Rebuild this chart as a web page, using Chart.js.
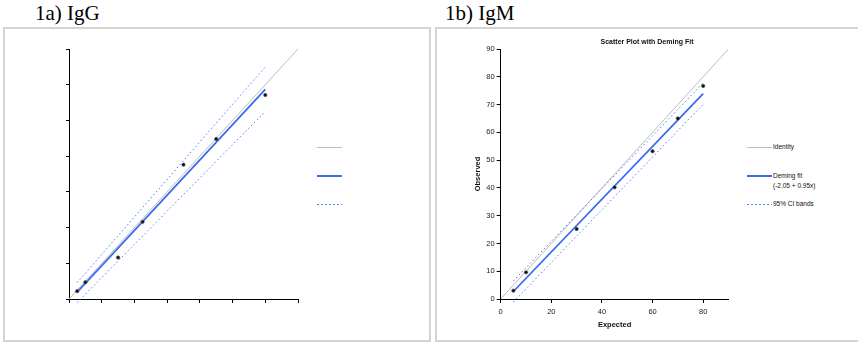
<!DOCTYPE html>
<html><head><meta charset="utf-8">
<script src="https://cdn.jsdelivr.net/npm/chart.js@4.4.1/dist/chart.umd.min.js"></script>
<style>
html,body{margin:0;padding:0;background:#fff;}
body{width:858px;height:342px;position:relative;overflow:hidden;font-family:"Liberation Sans",Arial,sans-serif;}
.ptitle{position:absolute;top:3px;font-family:"Liberation Serif","Times New Roman",serif;font-size:21px;line-height:21px;color:#000;white-space:nowrap;}
.panel{position:absolute;top:27px;height:315px;border:2px solid #d4d4d4;box-sizing:border-box;}
.cwrap{position:absolute;}
.legline{position:absolute;width:25px;}
.legtext{position:absolute;font-size:6.5px;line-height:10.5px;color:#111;white-space:nowrap;}
.ctitle{position:absolute;font-weight:bold;font-size:7px;line-height:9px;color:#111;white-space:nowrap;transform:translateX(-50%);}
</style>
</head>
<body>
<div class="ptitle" style="left:35px">1a) IgG</div>
<div class="ptitle" style="left:445px">1b) IgM</div>
<div class="panel" style="left:3px;width:428px"></div>
<div class="panel" style="left:435px;width:430px"></div>
<div class="cwrap" style="left:6px;top:30px;width:320px;height:308px"><canvas id="c1" width="320" height="308"></canvas></div>
<div class="cwrap" style="left:437px;top:30px;width:300px;height:308px"><canvas id="c2" width="300" height="308"></canvas></div>
<div class="ctitle" id="t2" style="left:647px;top:37px"></div>
<div id="leg1"></div>
<div id="leg2"></div>
<script>
// ---------- Panel 1a) IgG (axis tick labels absent in source) ----------
const iggExpected = [0.25, 0.5, 1.5, 2.25, 3.5, 4.5, 6.0];
const iggObserved = [0.22, 0.47, 1.16, 2.16, 3.76, 4.48, 5.71];
const iggIdentityX = [0, 7];
const iggFitX = [0.25, 6.0];
const iggFitY = [0.19, 5.87];
const iggUpperY = [0.46, 6.5];
const iggLowerY = [-0.10, 5.25];
const iggTicks = [0, 1, 2, 3, 4, 5, 6, 7];

// ---------- Panel 1b) IgM ----------
const igmExpected = [5, 10, 30, 45, 60, 70, 80];
const igmObserved = [3.0, 9.6, 25.2, 40.2, 53.2, 65.0, 76.7];
const igmIdentityX = [0, 90];
const igmFitX = [5, 80];
const igmFitY = [2.7, 73.95];
const igmUpperY = [6.5, 77.8];
const igmLowerY = [-1.1, 70.1];
const igmXTicks = [0, 20, 40, 60, 80];
const igmYTicks = [0, 10, 20, 30, 40, 50, 60, 70, 80, 90];

const chartTitle = 'Scatter Plot with Deming Fit';
const xTitle = 'Expected';
const yTitle = 'Observed';
const legendLabels = ['Identity', 'Deming fit\n(-2.05 + 0.95x)', '95% CI bands'];

const FONT = '"Liberation Sans", Arial, sans-serif';
const COL_ID = '#bdbdbd', COL_FIT = '#3a6cf2', COL_CI = '#4d7cff';

function pts(xs, ys) { return xs.map((x, i) => ({x: x, y: ys[i]})); }

function makeDatasets(ex, ob, idX, fitX, fitY, upY, loY) {
  return [
    {label: 'data', data: pts(ex, ob), showLine: false, pointRadius: 1.7, pointBackgroundColor: '#111',
     pointBorderColor: '#555', pointBorderWidth: 0.6, order: 0},
    {label: legendLabels[1], data: pts(fitX, fitY), showLine: true, borderColor: COL_FIT, borderWidth: 1.8,
     pointRadius: 0, order: 1},
    {label: legendLabels[2], data: pts(fitX, upY), showLine: true, borderColor: COL_CI, borderWidth: 1,
     borderDash: [1.5, 2.5], pointRadius: 0, order: 2, clip: false},
    {label: legendLabels[2], data: pts(fitX, loY), showLine: true, borderColor: COL_CI, borderWidth: 1,
     borderDash: [1.5, 2.5], pointRadius: 0, order: 2, clip: false},
    {label: legendLabels[0], data: pts(idX, idX), showLine: true, borderColor: COL_ID, borderWidth: 1,
     pointRadius: 0, order: 3}
  ];
}

function axis(min, max, ticks, showLabels, tl, fitSize, isX, title, titlePad) {
  return {
    type: 'linear', min: min, max: max,
    afterBuildTicks: s => { s.ticks = ticks.map(v => ({value: v})); },
    ticks: {display: showLabels, color: '#222', padding: isX ? 4 : 2, font: {family: FONT, size: 7.5}, autoSkip: false, maxRotation: 0},
    grid: {drawOnChartArea: false, drawTicks: true, tickLength: tl, color: '#000', tickColor: '#000', tickWidth: 1},
    border: {display: true, color: '#000', width: 1},
    title: title ? {display: true, text: title, color: '#111', font: {family: FONT, size: 7.5, weight: 'bold'}, padding: titlePad} : {display: false},
    afterFit: s => { if (isX) s.height = fitSize; else s.width = fitSize; }
  };
}

const common = {responsive: false, animation: false, devicePixelRatio: 1,
  plugins: {legend: {display: false}, tooltip: {enabled: false}, title: {display: false}}};

const ch1 = new Chart(document.getElementById('c1'), {
  type: 'scatter',
  data: {datasets: makeDatasets(iggExpected, iggObserved, iggIdentityX, iggFitX, iggFitY, iggUpperY, iggLowerY)},
  options: Object.assign({}, common, {
    layout: {padding: {left: 0, top: 19, right: 28, bottom: 0}},
    scales: {
      x: axis(0, 7, iggTicks, false, 4, 39, true, null),
      y: axis(0, 7, iggTicks, false, 3, 63, false, null)
    }
  })
});

const ch2 = new Chart(document.getElementById('c2'), {
  type: 'scatter',
  data: {datasets: makeDatasets(igmExpected, igmObserved, igmIdentityX, igmFitX, igmFitY, igmUpperY, igmLowerY)},
  options: Object.assign({}, common, {
    layout: {padding: {left: 0, top: 19, right: 8.5, bottom: 0}},
    scales: {
      x: axis(0, 90, igmXTicks, true, 4, 39, true, xTitle, {top: 0, bottom: 8.5}),
      y: axis(0, 90, igmYTicks, true, 4, 63.7, false, yTitle, {top: 36.5, bottom: 0})
    }
  })
});

document.getElementById('t2').textContent = chartTitle;

// HTML legends built from the chart datasets
function buildLegend(chart, el, lineLeft, withText) {
  const ds = chart.data.datasets;
  const entries = [ds[4], ds[1], ds[2]];
  const ys = [147, 176, 204];
  entries.forEach((d, i) => {
    const ln = document.createElement('div');
    ln.className = 'legline';
    const h = Math.max(1, Math.round(d.borderWidth));
    ln.style.left = lineLeft + 'px';
    ln.style.top = Math.round(ys[i] - h / 2) + 'px';
    ln.style.height = h + 'px';
    ln.style.background = d.borderDash
      ? 'repeating-linear-gradient(to right,' + d.borderColor + ' 0 2px, transparent 2px 4px)'
      : d.borderColor;
    el.appendChild(ln);
    if (withText) {
      const lines = d.label.split('\n');
      const tx = document.createElement('div');
      tx.className = 'legtext';
      tx.style.left = (lineLeft + 26) + 'px';
      tx.style.top = (ys[i] - 5.25) + 'px';
      tx.innerHTML = lines.map(s => s.replace(/&/g, '&amp;').replace(/</g, '&lt;')).join('<br>');
      el.appendChild(tx);
    }
  });
}
buildLegend(ch1, document.getElementById('leg1'), 317, false);
buildLegend(ch2, document.getElementById('leg2'), 747, true);
</script>
</body></html>
